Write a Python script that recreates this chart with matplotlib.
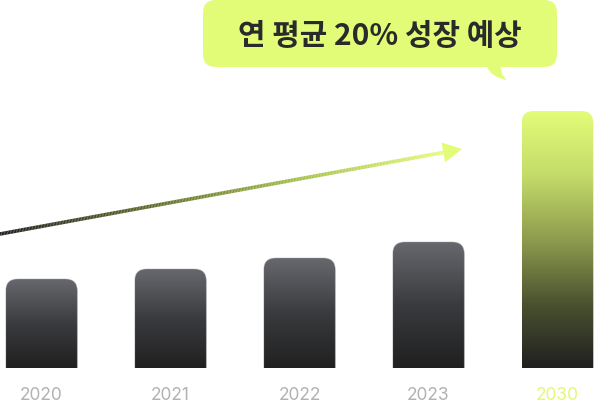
import numpy as np
import matplotlib
matplotlib.use('Agg')
import matplotlib.pyplot as plt
from matplotlib.colors import LinearSegmentedColormap
from matplotlib.patches import FancyBboxPatch, PathPatch, Polygon
from matplotlib.path import Path
from matplotlib.collections import LineCollection
from matplotlib.transforms import IdentityTransform

# data (bar heights, arbitrary units)
years = ['2020', '2021', '2022', '2023', '2030']
values = [89, 99, 110, 126, 257]
highlight = [False, False, False, False, True]

# trend arrow, in data units (x = category index, y = value)
trend_start = (-0.322, 134)
trend_end = (3.26, 219)

callout_text = '연 평균 20% 성장 예상'

LIME = '#e3fc78'
DARK = '#202020'
GREY_TOP = '#66686d'

W, H, DPI = 594, 405, 100
fig = plt.figure(figsize=(W / DPI, H / DPI), dpi=DPI)

# main axes: bottom of axes is the baseline of the bars
base_px = 368
ax = fig.add_axes([0, (H - base_px) / H, 1, base_px / H])
ax.set_xlim(-0.322, 4.283)
ax.set_ylim(0, base_px)
for s in ax.spines.values():
    s.set_visible(False)
ax.set_yticks([])
ax.patch.set_alpha(0)

# px per data unit, for round corners
px_x = W / (4.283 + 0.322)
px_y = base_px / base_px
aspect = px_x / px_y

bar_w = 0.555
radius = 12 / px_x

grey_cmap = LinearSegmentedColormap.from_list('g', [DARK, '#3a3b3e', GREY_TOP])
lime_cmap = LinearSegmentedColormap.from_list('l', [DARK, '#4a5230', '#8e9c4e', '#c4dc6a', LIME])

grad = np.linspace(0, 1, 256).reshape(-1, 1)
for i, (v, hl) in enumerate(zip(values, highlight)):
    x0 = i - bar_w / 2
    clip = FancyBboxPatch((x0, -40), bar_w, v + 40,
                          boxstyle='round,pad=0,rounding_size=%f' % radius,
                          mutation_aspect=aspect, transform=ax.transData,
                          facecolor='none', edgecolor='none')
    ax.add_patch(clip)
    im = ax.imshow(grad, cmap=lime_cmap if hl else grey_cmap, origin='lower',
                   extent=[x0, x0 + bar_w, 0, v], aspect='auto', zorder=2)
    im.set_clip_path(clip)
    if not hl:
        edge = FancyBboxPatch((x0, -40), bar_w, v + 40,
                              boxstyle='round,pad=0,rounding_size=%f' % radius,
                              mutation_aspect=aspect, facecolor='none',
                              edgecolor='#a0a2a6', lw=0.6, alpha=0.5, zorder=3)
        ax.add_patch(edge)

ax.set_xlim(-0.322, 4.283)
ax.set_ylim(0, base_px)

ax.set_xticks(range(len(years)))
ax.set_xticklabels(years, fontsize=12.5, fontfamily='Inter', fontweight='normal')
ax.tick_params(axis='x', length=0, pad=13.5)
for lab, hl in zip(ax.get_xticklabels(), highlight):
    lab.set_color('#e2f878' if hl else '#b2b2b2')

# gradient trend arrow drawn in display pixels
p0 = ax.transData.transform(trend_start)
p1 = ax.transData.transform(trend_end)
d = (p1 - p0) / np.hypot(*(p1 - p0))
nrm = np.array([-d[1], d[0]])
head_len, head_half = 19, 10
line_end = p1 - d * head_len
t = np.linspace(0, 1, 300)
pts = p0[None, :] + t[:, None] * (line_end - p0)[None, :]
segs = np.stack([pts[:-1], pts[1:]], axis=1)
arrow_cmap = LinearSegmentedColormap.from_list('a', ['#1e1e1e', '#5c6a2c', '#a4bd48', LIME])
lc = LineCollection(segs, colors=arrow_cmap(t[:-1]), linewidths=2.6,
                    transform=IdentityTransform(), capstyle='butt', zorder=4)
fig.add_artist(lc)
head = Polygon([p1, line_end + nrm * head_half, line_end - nrm * head_half],
               closed=True, facecolor=LIME, edgecolor='none',
               transform=IdentityTransform(), zorder=4)
fig.add_artist(head)

# callout bubble, in pixel layout coordinates
ov = fig.add_axes([0, 0, 1, 1], zorder=5)
ov.set_xlim(0, W)
ov.set_ylim(H, 0)
ov.axis('off')
ov.patch.set_alpha(0)
box = FancyBboxPatch((203, 0), 354, 67, boxstyle='round,pad=0,rounding_size=13',
                     facecolor=LIME, edgecolor='none')
ov.add_patch(box)
tail = Path([(487, 66), (490, 77), (507, 80), (500, 74), (501, 66), (487, 66)],
            [Path.MOVETO, Path.CURVE3, Path.CURVE3, Path.CURVE3, Path.CURVE3, Path.CLOSEPOLY])
ov.add_patch(PathPatch(tail, facecolor=LIME, edgecolor='none'))
ov.text(380, 35.5, callout_text, ha='center', va='center', fontsize=21.5,
        fontweight='bold', color='#2a2a2a',
        family=['Noto Sans CJK KR', 'DejaVu Sans'])

fig.savefig('out.png', dpi=DPI)
